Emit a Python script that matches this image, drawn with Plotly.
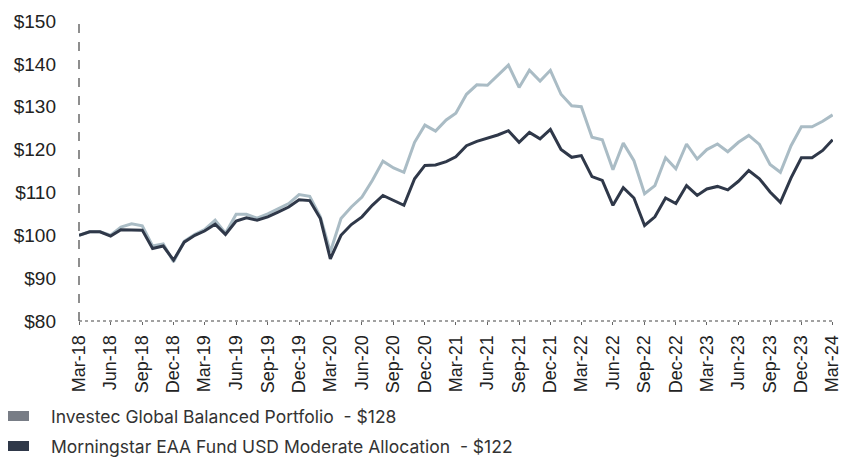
import plotly.graph_objects as go
import pandas as pd

dates = pd.date_range("2018-03-01", "2024-03-01", freq="MS")

investec = [100.0, 100.8, 100.8, 100.0, 101.9, 102.7, 102.2, 97.5, 98.0, 93.8,
            98.6, 100.2, 101.3, 103.5, 100.5, 104.9, 104.9, 104.0, 105.0, 106.2,
            107.4, 109.5, 109.1, 104.3, 96.1, 103.9, 106.6, 108.9, 112.8, 117.3,
            115.7, 114.7, 121.7, 125.7, 124.3, 126.9, 128.5, 132.9, 135.1, 135.0,
            137.4, 139.7, 134.5, 138.5, 136.0, 138.5, 132.9, 130.2, 130.0, 122.9,
            122.3, 115.3, 121.5, 117.4, 109.7, 111.6, 118.1, 115.5, 121.3, 117.8,
            120.0, 121.3, 119.5, 121.7, 123.3, 121.2, 116.5, 114.7, 120.9, 125.3,
            125.3, 126.6, 128.1]

morningstar = [100.0, 100.8, 100.8, 99.8, 101.3, 101.2, 101.2, 96.9, 97.5, 94.2,
               98.4, 100.0, 101.0, 102.6, 100.2, 103.3, 104.1, 103.5, 104.3, 105.4,
               106.6, 108.3, 108.1, 103.9, 94.5, 100.0, 102.5, 104.3, 107.0, 109.3,
               108.1, 107.0, 113.2, 116.3, 116.4, 117.2, 118.3, 120.9, 121.9, 122.6,
               123.4, 124.4, 121.7, 124.0, 122.5, 124.7, 120.0, 118.2, 118.6, 113.7,
               112.8, 107.0, 111.1, 108.7, 102.3, 104.3, 108.7, 107.4, 111.6, 109.3,
               110.8, 111.4, 110.6, 112.6, 115.1, 113.2, 110.1, 107.7, 113.4, 118.1,
               118.1, 119.8, 122.3]

series_names = ["Investec Global Balanced Portfolio  - $128",
                "Morningstar EAA Fund USD Moderate Allocation  - $122"]
line_colors = ["#aabcc5", "#2f3849"]
legend_colors = ["#787d86", "#2f3849"]

tick_vals = dates[::3]
tick_text = [d.strftime("%b-%y") for d in tick_vals]
y_ticks = [80, 90, 100, 110, 120, 130, 140, 150]
y_text = [f"${v}" for v in y_ticks]

W, H = 843, 457
ML, MR, MT, MB = 79, 10, 21, 136
PW, PH = W - ML - MR, H - MT - MB


def px_x(p):
    return (p - ML) / PW


def px_y(p):
    return (H - MB - p) / PH


fig = go.Figure()
for vals, name, c in zip([investec, morningstar], series_names, line_colors):
    fig.add_trace(go.Scatter(x=dates, y=vals, mode="lines", name=name,
                             line=dict(color=c, width=3), showlegend=False))

fig.update_layout(
    width=W, height=H,
    margin=dict(l=ML, r=MR, t=MT, b=MB, autoexpand=False),
    plot_bgcolor="white", paper_bgcolor="white",
    font=dict(family="Liberation Sans, Arial, sans-serif", color="#222222"),
    showlegend=False,
)

fig.update_xaxes(
    range=[dates[0], pd.Timestamp("2024-03-02")],
    tickmode="array", tickvals=tick_vals, ticktext=tick_text,
    tickangle=-90, tickfont=dict(size=18, color="#222222"),
    showgrid=False, zeroline=False,
    showline=False, ticks="outside", ticklen=3, tickcolor="#666666",
    ticklabelstandoff=3, ticklabeloverflow="allow",
)
fig.update_yaxes(
    range=[80, 150], tickmode="array", tickvals=y_ticks, ticktext=y_text,
    tickfont=dict(size=19, color="#222222"),
    showgrid=False, zeroline=False, showline=False, ticks="",
    ticklabelstandoff=22, ticklabeloverflow="allow",
)

# dashed y-axis line and dotted x-axis line
fig.add_shape(type="line", xref="paper", yref="paper", x0=0, x1=0, y0=0, y1=0.99,
              line=dict(color="#444444", width=1.2, dash="dash"))
fig.add_shape(type="line", xref="paper", yref="paper", x0=0, x1=1, y0=0, y1=0,
              line=dict(color="#444444", width=1.2, dash="dot"))

# legend drawn as swatches + text
legend_rows = [416, 446]
for name, c, ry in zip(series_names, legend_colors, legend_rows):
    fig.add_shape(type="rect", xref="paper", yref="paper",
                  x0=px_x(8), x1=px_x(29), y0=px_y(ry + 5), y1=px_y(ry - 5),
                  fillcolor=c, line=dict(width=0))
    fig.add_annotation(xref="paper", yref="paper", x=px_x(49), y=px_y(ry),
                       text=name, showarrow=False, xanchor="left", yanchor="middle",
                       font=dict(family="Inter, Roboto, sans-serif", size=17.5,
                                 color="#333333"))

fig.write_html("out.html")
